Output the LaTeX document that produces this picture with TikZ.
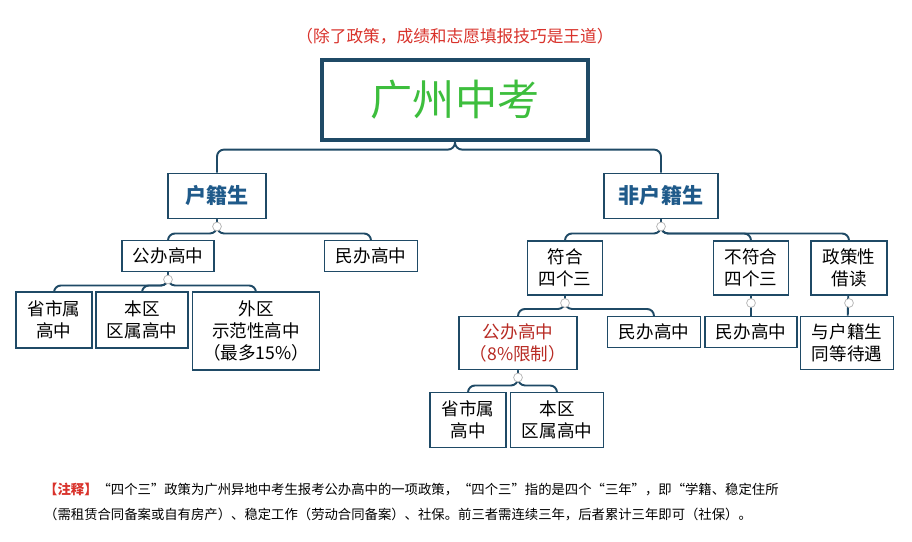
\documentclass[tikz,border=0pt]{standalone}
\usepackage{fontspec}
\setmainfont{Noto Sans CJK SC}
\usetikzlibrary{positioning}
\definecolor{boxline}{HTML}{1F4A66}
\definecolor{titlegreen}{HTML}{3DBE3D}
\definecolor{headblue}{HTML}{1F5A8A}
\definecolor{notered}{HTML}{D9322B}
\begin{document}
\begin{tikzpicture}[x=0.02cm, y=-0.02cm,
    box/.style 2 args={rectangle, draw=boxline, line width=1.1pt, fill=white, inner sep=0pt,
        minimum width=#1*0.02cm, minimum height=#2*0.02cm, align=center, font=\fontsize{10}{12.5}\selectfont},
    head/.style={font=\fontsize{12}{14}\selectfont\bfseries, text=headblue},
    link/.style={draw=boxline, line width=1.1pt, rounded corners=4pt},
    knob/.style={circle, draw=gray!60, fill=white, inner sep=0pt, minimum size=5pt},
    note/.style={font=\fontsize{7.6}{13}\selectfont, anchor=west}
]
\useasboundingbox[fill=white] (0,0) rectangle (912,541);

% Title
\node[text=notered, font=\fontsize{9.5}{11}\selectfont] (motto) at (455,36) {（除了政策，成绩和志愿填报技巧是王道）};
\node[box={266}{80}, line width=1.8pt, font=\fontsize{24}{28}\selectfont, text=titlegreen] (gz) at (455,100) {广州中考};

% Level 1
\node[box={98}{45}, head] (hj) at (217,196) {户籍生};
\node[box={114}{45}, head] (fhj) at (661,196) {非户籍生};

% Local branch
\node[box={92}{31}] (gb1) at (168,256) {公办高中};
\node[box={93}{31}] (mb1) at (371,256) {民办高中};
\node[box={76}{56}] (ss1) at (54,320) {省市属\\高中};
\node[box={92}{56}] (bq1) at (142,320) {本区\\区属高中};
\node[box={127}{78}] (wq) at (256,331) {外区\\示范性高中\\（最多15\%）};

% Non-local branch
\node[box={75}{54}] (fh) at (565,268) {符合\\四个三};
\node[box={75}{54}] (bfh) at (751,268) {不符合\\四个三};
\node[box={76}{54}] (zc) at (849,268) {政策性\\借读};
\node[box={118}{53}, text=notered!85!black] (gb2) at (518,343) {公办高中\\（8\%限制）};
\node[box={93}{31}] (mb2) at (654,332) {民办高中};
\node[box={92}{31}] (mb3) at (751,332) {民办高中};
\node[box={93}{53}] (td) at (847,343) {与户籍生\\同等待遇};
\node[box={76}{55}] (ss2) at (468,420) {省市属\\高中};
\node[box={93}{55}] (bq2) at (557,420) {本区\\区属高中};

% Connectors
\foreach \c in {hj,fhj} \draw[link] (gz.south) -- ++(0,8) -| (\c.north);
\foreach \c in {gb1,mb1} \draw[link] (hj.south) -- ++(0,14) -| (\c.north);
\foreach \c in {ss1,bq1,wq} \draw[link] (gb1.south) -- ++(0,13) -| (\c.north);
\foreach \c in {fh,bfh,zc} \draw[link] (fhj.south) -- ++(0,14) -| (\c.north);
\foreach \c in {gb2,mb2} \draw[link] (fh.south) -- ++(0,13) -| (\c.north);
\draw[link] (bfh) -- (mb3);
\draw[link] (zc) -- (td);
\foreach \c in {ss2,bq2} \draw[link] (gb2.south) -- ++(0,15) -| (\c.north);
\foreach \p in {hj,gb1,fhj,fh,bfh,zc,gb2} \node[knob] at ([yshift=-4pt]\p.south) {};

% Note
\node[note] (n1) at (38,489) {\textcolor{notered}{\bfseries【注释】}“四个三”政策为广州异地中考生报考公办高中的一项政策，“四个三”指的是四个“三年”，即“学籍、稳定住所};
\node[note] (n2) at (38,514) {（需租赁合同备案或自有房产）、稳定工作（劳动合同备案）、社保。前三者需连续三年，后者累计三年即可（社保）。};
\end{tikzpicture}
\end{document}
